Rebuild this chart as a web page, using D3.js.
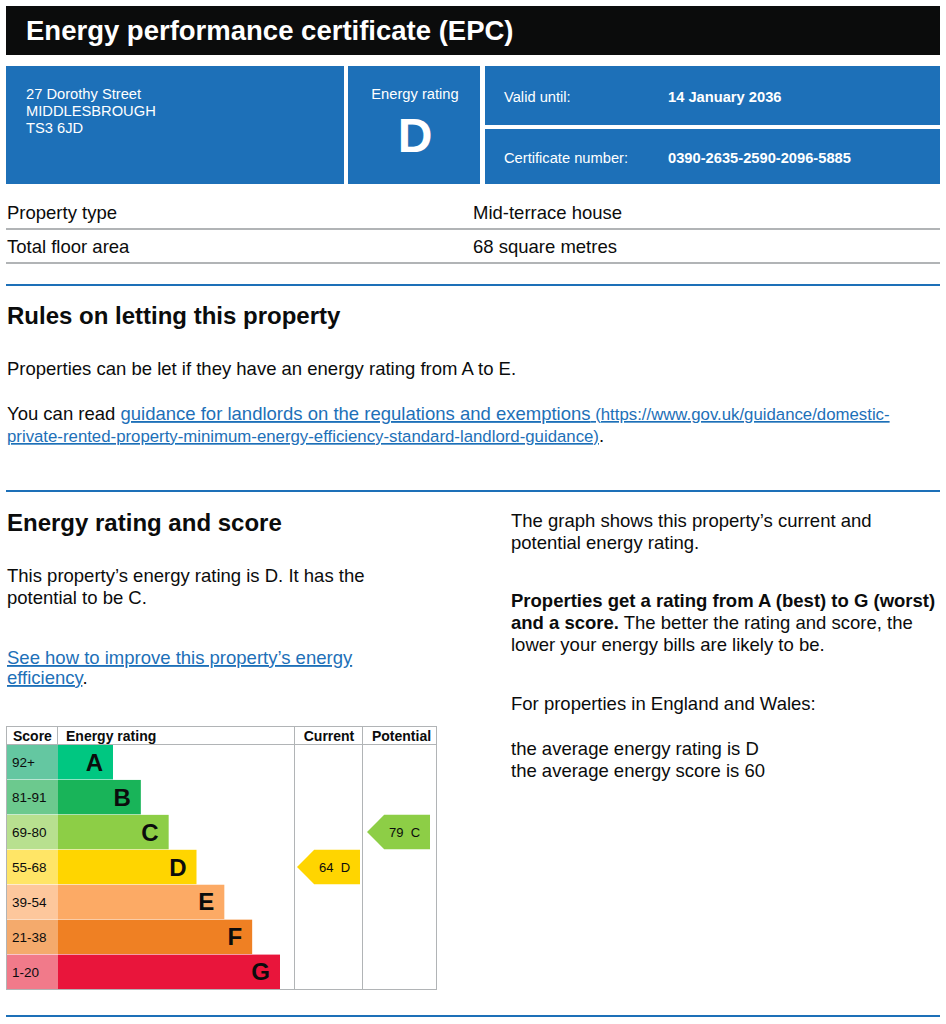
<!DOCTYPE html>
<html>
<head>
<meta charset="utf-8">
<script src="https://cdn.jsdelivr.net/npm/d3@7"></script>
<style>
  body { margin: 0; background: #fff; }
  svg { display: block; font-family: "Liberation Sans", Arial, sans-serif; }
</style>
</head>
<body>
<div id="page"></div>
<script>
const width = 946;
const height = 1024;

const BLUE = "#1d70b8";
const GREY = "#b1b4b6";
const BODY = "18.5px";

// rating bands, best to worst
const bands = ["A", "B", "C", "D", "E", "F", "G"];
const scoreRanges = ["92+", "81-91", "69-80", "55-68", "39-54", "21-38", "1-20"];
const bandColors = ["#00c781", "#19b459", "#8dce46", "#ffd500", "#fcaa65", "#ef8023", "#e9153b"];
const scoreColors = ["#64c7a1", "#6cc98e", "#b8e08f", "#ffe566", "#fdc79c", "#f4aa6c", "#f17a8a"];

const currentScore = 64;
const currentBand = "D";
const potentialScore = 79;
const potentialBand = "C";

const summaryRows = [["Property type", "Mid-terrace house"], ["Total floor area", "68 square metres"]];
const address = ["27 Dorothy Street", "MIDDLESBROUGH", "TS3 6JD"];

const svg = d3.select("#page")
  .append("svg")
  .attr("width", width)
  .attr("height", height);

// ---- header ----
svg.append("rect").attr("x", 6).attr("y", 6).attr("width", 934).attr("height", 49).attr("fill", "#0b0c0c");
svg.append("text").attr("x", 26).attr("y", 40)
  .attr("fill", "#fff").style("font-size", "27.5px").style("font-weight", "bold")
  .text("Energy performance certificate (EPC)");

// ---- blue boxes ----
const boxes = [[6, 66, 338, 118], [348, 66, 132, 118], [485, 66, 455, 59], [485, 129, 455, 55]];
svg.selectAll(".box").data(boxes).enter().append("rect")
  .attr("x", d => d[0]).attr("y", d => d[1]).attr("width", d => d[2]).attr("height", d => d[3])
  .attr("fill", BLUE);

svg.selectAll(".addr").data(address).enter().append("text")
  .attr("x", 26).attr("y", (d, i) => 99 + i * 17)
  .attr("fill", "#fff").style("font-size", "14.7px")
  .text(d => d);

svg.append("text").attr("x", 415).attr("y", 99).attr("text-anchor", "middle")
  .attr("fill", "#fff").style("font-size", "14.7px").text("Energy rating");
svg.append("text").attr("x", 415).attr("y", 152).attr("text-anchor", "middle")
  .attr("fill", "#fff").style("font-size", "48px").style("font-weight", "bold").text(currentBand);

svg.append("text").attr("x", 504).attr("y", 102).attr("fill", "#fff").style("font-size", "14.7px").text("Valid until:");
svg.append("text").attr("x", 668).attr("y", 102).attr("fill", "#fff").style("font-size", "14.7px").style("font-weight", "bold").text("14 January 2036");
svg.append("text").attr("x", 504).attr("y", 163).attr("fill", "#fff").style("font-size", "14.7px").text("Certificate number:");
svg.append("text").attr("x", 668).attr("y", 163).attr("fill", "#fff").style("font-size", "14.7px").style("font-weight", "bold").text("0390-2635-2590-2096-5885");

// ---- summary table ----
const sumRow = svg.selectAll(".sum").data(summaryRows).enter().append("g")
  .attr("transform", (d, i) => `translate(0,${i * 34})`);
sumRow.append("text").attr("x", 7).attr("y", 219).style("font-size", BODY).attr("fill", "#0b0c0c").text(d => d[0]);
sumRow.append("text").attr("x", 473).attr("y", 219).style("font-size", BODY).attr("fill", "#0b0c0c").text(d => d[1]);
sumRow.append("rect").attr("x", 6).attr("y", 228).attr("width", 934).attr("height", 2).attr("fill", GREY);

// ---- section rules ----
[284, 490, 1015].forEach(y => {
  svg.append("rect").attr("x", 6).attr("y", y).attr("width", 934).attr("height", 2).attr("fill", BLUE);
});

function para(x, y, lines) {
  const t = svg.append("text").attr("x", x).attr("y", y).style("font-size", BODY).attr("fill", "#0b0c0c");
  lines.forEach((line, i) => {
    t.append("tspan").attr("x", x).attr("y", y + i * 22).text(line);
  });
  return t;
}

function heading(x, y, txt) {
  svg.append("text").attr("x", x).attr("y", y).style("font-size", "24px").style("font-weight", "bold")
    .attr("fill", "#0b0c0c").text(txt);
}

heading(7, 324, "Rules on letting this property");
para(7, 375, ["Properties can be let if they have an energy rating from A to E."]);

const guide = svg.append("text").attr("x", 7).attr("y", 420).style("font-size", BODY).attr("fill", "#0b0c0c");
guide.append("tspan").text("You can read ");
guide.append("tspan").attr("fill", BLUE).style("text-decoration", "underline")
  .text("guidance for landlords on the regulations and exemptions");
guide.append("tspan").attr("fill", BLUE).style("text-decoration", "underline").style("font-size", "16.8px")
  .text(" (https://www.gov.uk/guidance/domestic-");
const guide2 = svg.append("text").attr("x", 7).attr("y", 442).style("font-size", "16.8px").attr("fill", "#0b0c0c");
guide2.append("tspan").attr("fill", BLUE).style("text-decoration", "underline")
  .text("private-rented-property-minimum-energy-efficiency-standard-landlord-guidance)");
guide2.append("tspan").style("font-size", BODY).text(".");

heading(7, 531, "Energy rating and score");
para(7, 582, ["This property\u2019s energy rating is D. It has the", "potential to be C."]);

const imp = svg.append("text").attr("x", 7).attr("y", 664).style("font-size", BODY).attr("fill", BLUE);
imp.append("tspan").attr("x", 7).style("text-decoration", "underline").text("See how to improve this property\u2019s energy");
const imp2 = svg.append("text").attr("x", 7).attr("y", 684).style("font-size", BODY).attr("fill", BLUE);
imp2.append("tspan").style("text-decoration", "underline").text("efficiency");
imp2.append("tspan").attr("fill", "#0b0c0c").text(".");

para(511, 527, ["The graph shows this property\u2019s current and", "potential energy rating."]);

const best = svg.append("text").attr("x", 511).attr("y", 607).style("font-size", BODY).attr("fill", "#0b0c0c");
best.append("tspan").attr("x", 511).style("font-weight", "bold").text("Properties get a rating from A (best) to G (worst)");
best.append("tspan").attr("x", 511).attr("dy", 22).style("font-weight", "bold").text("and a score.");
best.append("tspan").text(" The better the rating and score, the");
best.append("tspan").attr("x", 511).attr("dy", 22).text("lower your energy bills are likely to be.");

para(511, 710, ["For properties in England and Wales:"]);
para(511, 755, ["the average energy rating is D", "the average energy score is 60"]);

// ---- rating graph ----
const chart = { x0: 6, x1: 437, y0: 726, head: 745, y1: 989, scoreW: 52, curX: 294, potX: 362 };

const y = d3.scaleBand().domain(bands).range([chart.head, chart.y1]).paddingInner(0.015);
const barW = d3.scaleLinear().domain([0, bands.length - 1]).range([55, 222]);
const barX = chart.x0 + chart.scoreW;

const g = svg.append("g");

// score cells
g.selectAll(".score").data(bands).enter().append("rect")
  .attr("x", chart.x0).attr("y", d => y(d))
  .attr("width", chart.scoreW).attr("height", y.bandwidth())
  .attr("fill", (d, i) => scoreColors[i]);
g.selectAll(".scoreLabel").data(bands).enter().append("text")
  .attr("x", chart.x0 + 6).attr("y", d => y(d) + y.bandwidth() / 2 + 5)
  .style("font-size", "13.5px").attr("fill", "#0b0c0c")
  .text((d, i) => scoreRanges[i]);

// bars
g.selectAll(".bar").data(bands).enter().append("rect")
  .attr("x", barX).attr("y", d => y(d))
  .attr("width", (d, i) => barW(i)).attr("height", y.bandwidth())
  .attr("fill", (d, i) => bandColors[i]);
g.selectAll(".barLabel").data(bands).enter().append("text")
  .attr("x", (d, i) => barX + barW(i) - 10).attr("y", d => y(d) + y.bandwidth() / 2 + 8.5)
  .attr("text-anchor", "end").style("font-size", "24px").style("font-weight", "bold").attr("fill", "#0b0c0c")
  .text(d => d);

// frame and column rules
g.append("rect").attr("x", chart.x0 + 0.5).attr("y", chart.y0 + 0.5)
  .attr("width", chart.x1 - chart.x0 - 1).attr("height", chart.y1 - chart.y0)
  .attr("fill", "none").attr("stroke", GREY).attr("stroke-width", 1);
g.append("line").attr("x1", chart.x0).attr("x2", chart.x1).attr("y1", chart.head - 0.5).attr("y2", chart.head - 0.5)
  .attr("stroke", GREY);
g.append("line").attr("x1", barX - 0.5).attr("x2", barX - 0.5).attr("y1", chart.y0).attr("y2", chart.head)
  .attr("stroke", GREY);
[chart.curX, chart.potX].forEach(x => {
  g.append("line").attr("x1", x + 0.5).attr("x2", x + 0.5).attr("y1", chart.y0).attr("y2", chart.y1 + 0.5)
    .attr("stroke", GREY);
});

// headers
const headers = [
  { label: "Score", x: chart.x0 + 7, anchor: "start" },
  { label: "Energy rating", x: barX + 8, anchor: "start" },
  { label: "Current", x: (chart.curX + chart.potX) / 2 + 1, anchor: "middle" },
  { label: "Potential", x: (chart.potX + chart.x1) / 2 + 2, anchor: "middle" }
];
g.selectAll(".hdr").data(headers).enter().append("text")
  .attr("x", d => d.x).attr("y", chart.y0 + 15).attr("text-anchor", d => d.anchor)
  .style("font-size", "14px").style("font-weight", "bold").attr("fill", "#0b0c0c")
  .text(d => d.label);

// current / potential pointers
const pointers = [
  { score: currentScore, band: currentBand, x: chart.curX + 3, w: 63 },
  { score: potentialScore, band: potentialBand, x: chart.potX + 5, w: 63 }
];
const arrow = g.selectAll(".arrow").data(pointers).enter().append("g")
  .attr("transform", d => `translate(${d.x},${y(d.band)})`);
arrow.append("path")
  .attr("d", d => {
    const h = y.bandwidth();
    return `M0,${h / 2} L${h / 2},0 L${d.w},0 L${d.w},${h} L${h / 2},${h} Z`;
  })
  .attr("fill", d => bandColors[bands.indexOf(d.band)]);
arrow.append("text")
  .attr("x", d => d.w / 2 + 6).attr("y", y.bandwidth() / 2 + 5)
  .attr("text-anchor", "middle").style("font-size", "13px").attr("fill", "#0b0c0c")
  .attr("xml:space", "preserve")
  .text(d => d.score + "  " + d.band);
</script>
</body>
</html>
